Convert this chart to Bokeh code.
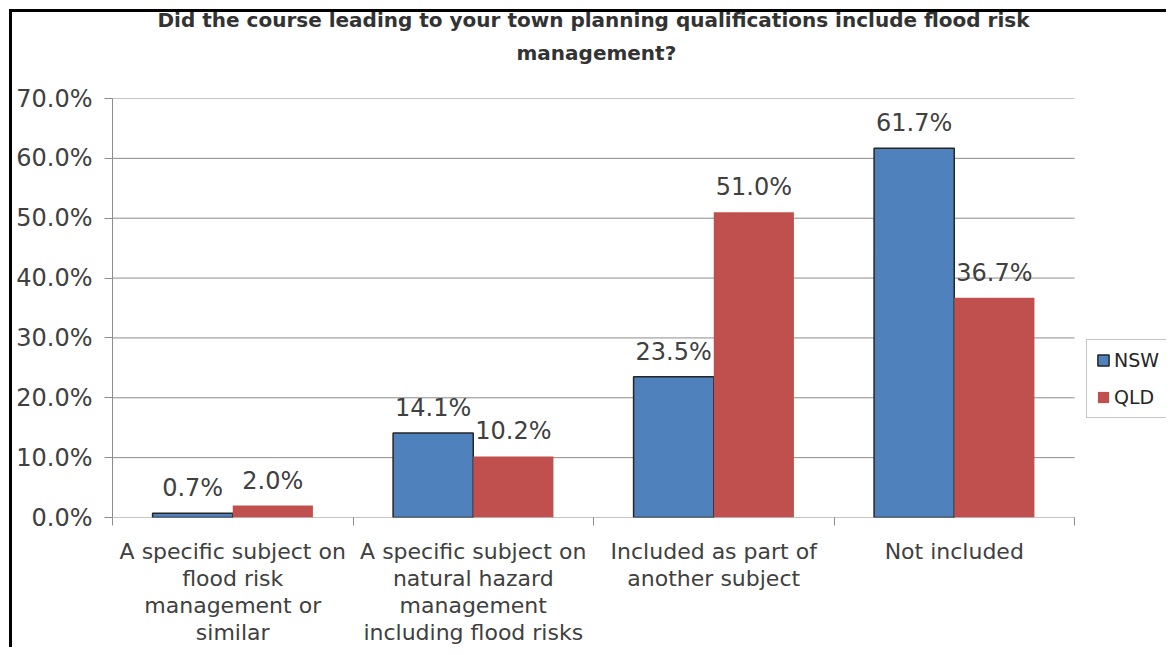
from bokeh.plotting import figure
from bokeh.models import Range1d, FixedTicker, Legend, LegendItem, PrintfTickFormatter, ColumnDataSource, Title
from bokeh.core.properties import value
from bokeh.embed import file_html
from bokeh.resources import INLINE

title_lines = ["Did the course leading to your town planning qualifications include flood risk",
               "management?"]
categories = [
    "A specific subject on\nflood risk\nmanagement or\nsimilar",
    "A specific subject on\nnatural hazard\nmanagement\nincluding flood risks",
    "Included as part of\nanother subject",
    "Not included",
]
series = ["NSW", "QLD"]
nsw = [0.7, 14.1, 23.5, 61.7]
qld = [2.0, 10.2, 51.0, 36.7]
y_ticks = [0, 10, 20, 30, 40, 50, 60, 70]

FONT = "DejaVu Sans"
TXT = "#404040"
GRID = "#8c8c8c"

W, H = 1166, 647
LEFT = 112          # frame left edge (px)
PLOT_W = 962        # width of the category area (px)
n = len(categories)
x_end = n * (W - LEFT) / PLOT_W   # frame extends to the right edge so the legend can sit there

centers = [i + 0.5 for i in range(n)]
bw = 1.0 / 3.0
x_nsw = [c - bw / 2 for c in centers]
x_qld = [c + bw / 2 for c in centers]

p = figure(width=W, height=H, output_backend="svg", toolbar_location=None,
           x_range=Range1d(0, x_end), y_range=Range1d(0, 70),
           min_border_left=LEFT, min_border_right=0, min_border_top=98, min_border_bottom=20)
p.styles = {"background": "linear-gradient(#000,#000) 9px 9px / 3px 100% no-repeat, "
                          "linear-gradient(#000,#000) 9px 9px / 100% 3px no-repeat, #ffffff"}
p.outline_line_color = None
p.background_fill_color = "white"
p.border_fill_color = None


def pad(bottom):
    return dict(left=0, right=0, top=0, bottom=bottom)


# title: two lines (the later-added Title sits nearest the frame)
p.title.text = title_lines[0]
p.title.align = "left"
p.title.offset = 45
p.title.vertical_align = "bottom"
p.title.text_font = FONT
p.title.text_font_size = "20px"
p.title.text_font_style = "bold"
p.title.text_color = "#333333"
p.title.standoff = 0
p.title.padding = pad(7)
t2 = Title(text=title_lines[1], align="left", offset=404, vertical_align="bottom",
           text_font=FONT, text_font_size="20px", text_font_style="bold",
           text_color="#333333", standoff=0, padding=pad(34))
p.add_layout(t2, "above")

# horizontal grid lines (also the zero line), limited to the category area
p.segment(x0=[0] * len(y_ticks), x1=[n] * len(y_ticks), y0=y_ticks, y1=y_ticks,
          line_color=GRID, line_width=1)

src_n = ColumnDataSource(dict(x=x_nsw, top=nsw, lab=["%.1f%%" % v for v in nsw]))
src_q = ColumnDataSource(dict(x=x_qld, top=qld, lab=["%.1f%%" % v for v in qld]))

r1 = p.vbar(x="x", top="top", width=bw, bottom=0, source=src_n,
            fill_color="#4F81BD", line_color="#262626", line_width=1.5)
r2 = p.vbar(x="x", top="top", width=bw, bottom=0, source=src_q,
            fill_color="#C0504D", line_color=None)

for src in (src_n, src_q):
    p.text(x="x", y="top", text="lab", source=src, text_align="center", text_baseline="bottom",
           y_offset=-11, text_font=value(FONT), text_font_size="24px", text_color=TXT)

# y axis
p.yaxis.ticker = FixedTicker(ticks=y_ticks)
p.yaxis.formatter = PrintfTickFormatter(format="%.1f%%")
p.yaxis.major_label_text_font = FONT
p.yaxis.major_label_text_font_size = "24px"
p.yaxis.major_label_text_color = TXT
p.yaxis.axis_line_color = GRID
p.yaxis.major_tick_line_color = GRID
p.yaxis.major_tick_out = 8
p.yaxis.major_tick_in = 0
p.yaxis.minor_tick_line_color = None
p.yaxis.major_label_standoff = 12

# x axis: labels at category centres, tick marks at category boundaries
p.xaxis.ticker = FixedTicker(ticks=centers, minor_ticks=list(range(n + 1)))
p.xaxis.major_label_overrides = {c: lab for c, lab in zip(centers, categories)}
p.xaxis.major_label_text_font = FONT
p.xaxis.major_label_text_font_size = "22px"
p.xaxis.major_label_text_color = TXT
p.xaxis.major_label_text_line_height = 1.08
p.xaxis.axis_line_color = None
p.xaxis.major_tick_line_color = None
p.xaxis.major_tick_out = 0
p.xaxis.major_tick_in = 0
p.xaxis.minor_tick_line_color = GRID
p.xaxis.minor_tick_out = 8
p.xaxis.minor_tick_in = 0
p.xaxis.major_label_standoff = 13

p.xgrid.grid_line_color = None
p.ygrid.grid_line_color = None

legend = Legend(items=[LegendItem(label=series[0], renderers=[r1]),
                       LegendItem(label=series[1], renderers=[r2])],
                location=(974, 99), orientation="vertical",
                border_line_color="#8c8c8c", border_line_width=1.5,
                background_fill_color="white", background_fill_alpha=1,
                label_text_font=FONT, label_text_font_size="19px", label_text_color="#262626",
                glyph_width=14, glyph_height=14, label_standoff=4, spacing=15,
                padding=9, margin=0)
p.add_layout(legend, "center")

open("out.html", "w").write(file_html(p, INLINE))
